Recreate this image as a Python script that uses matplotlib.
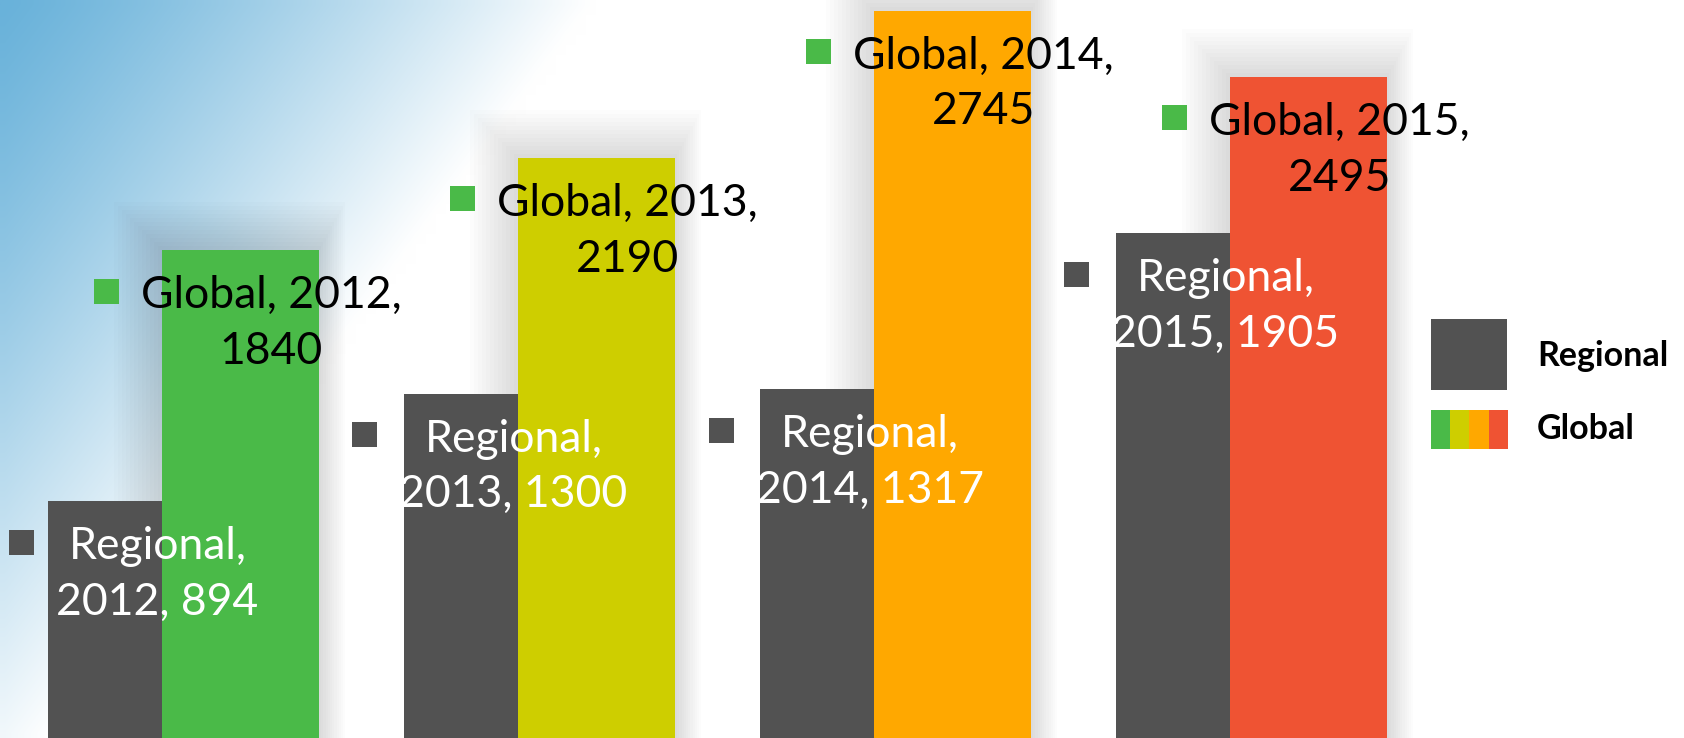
import matplotlib.pyplot as plt
import numpy as np
from matplotlib.patches import Rectangle

years = ['2012', '2013', '2014', '2015']
regional = [894, 1300, 1317, 1905]
global_vals = [1840, 2190, 2745, 2495]

gray = '#525252'
global_colors = ['#4ABA48', '#CECE00', '#FFA800', '#EF5333']

W, H = 1684, 738
fig = plt.figure(figsize=(W / 100, H / 100), dpi=100)
ax = fig.add_axes([0, 0, 1, 1])
ax.set_xlim(-0.5154, 4.2148)
ax.set_ylim(0, 2785)
ax.axis('off')

# background: blue fading to white from the top-left corner
gw, gh = 168, 74
gx = np.linspace(0, W, gw)[None, :]
gy = np.linspace(0, H, gh)[:, None]
t = np.clip(gx / 590 + gy / 800, 0, 1) ** 1.2
blue = np.array([105, 178, 218]) / 255
img = blue[None, None, :] * (1 - t[..., None]) + np.ones(3)[None, None, :] * t[..., None]
ax.imshow(img, extent=[0, 1, 0, 1], transform=ax.transAxes, aspect='auto',
          interpolation='bilinear', zorder=0)

x = np.arange(len(years))
width = 0.441
off = 0.16
px_x = 356.0          # pixels per x unit
px_y = H / 2785.0     # pixels per y unit

# soft shadow behind the global bars
for i, v in enumerate(global_vals):
    for k in range(1, 13):
        e = k * 4
        left = x[i] + off - width / 2 - e / px_x
        right = x[i] + off + width / 2 + (e * 0.55) / px_x
        top = v + e / px_y
        ax.add_patch(Rectangle((left, 0), right - left, top, facecolor='black',
                               alpha=0.012, edgecolor='none', zorder=1))

ax.bar(x - off, regional, width, color=gray, zorder=2)
ax.bar(x + off, global_vals, width, color=global_colors, zorder=3)

font = 'Lato'
labels = []
for i in range(len(years)):
    t1 = ax.annotate('Regional,\n%s, %d' % (years[i], regional[i]),
                     xy=(x[i] - off, regional[i]), xytext=(31, -25),
                     textcoords='offset pixels', ha='center', va='top',
                     multialignment='center', fontsize=32, family=font,
                     color='white', linespacing=1.45, zorder=6)
    labels.append((t1, x[i] - off, regional[i], gray))
    t2 = ax.annotate('Global, %s,\n%d' % (years[i], global_vals[i]),
                     xy=(x[i] + off, global_vals[i]), xytext=(31, -25),
                     textcoords='offset pixels', ha='center', va='top',
                     multialignment='center', fontsize=32, family=font,
                     color='black', linespacing=1.45, zorder=6)
    labels.append((t2, x[i] + off, global_vals[i], global_colors[0]))

fig.canvas.draw()
renderer = fig.canvas.get_renderer()
inv = ax.transData.inverted()
for txt, bx, bh, col in labels:
    bb = txt.get_window_extent(renderer)
    top_px = ax.transData.transform((bx, bh))[1]
    x1 = bb.x0 - 22
    x0 = x1 - 25
    yc = top_px - 41
    (dx0, dy0) = inv.transform((x0, yc - 12.5))
    (dx1, dy1) = inv.transform((x1, yc + 12.5))
    ax.add_patch(Rectangle((dx0, dy0), dx1 - dx0, dy1 - dy0, facecolor=col,
                           edgecolor='none', zorder=6))

# legend
def fig_rect(x0, y0, x1, y1, color):
    fig.patches.append(Rectangle((x0 / W, 1 - y1 / H), (x1 - x0) / W, (y1 - y0) / H,
                                 transform=fig.transFigure, facecolor=color,
                                 edgecolor='none', zorder=10))

fig_rect(1431, 319, 1507, 390, gray)
edges = [1431, 1450, 1469, 1489, 1508]
for j, c in enumerate(global_colors):
    fig_rect(edges[j], 410, edges[j + 1], 449, c)
fig.text(1537 / W, 1 - 356 / H, 'Regional', fontsize=24.5, fontweight='bold',
         family=font, va='center', ha='left', zorder=10)
fig.text(1537 / W, 1 - 429 / H, 'Global', fontsize=24.5, fontweight='bold',
         family=font, va='center', ha='left', zorder=10)

fig.savefig('out.png', dpi=100)
